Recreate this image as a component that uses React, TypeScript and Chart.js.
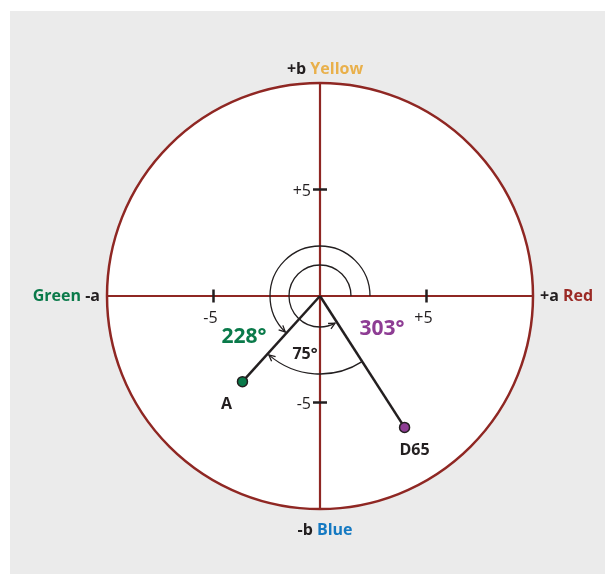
import React, { useEffect, useRef } from "react";
import { Chart, registerables } from "chart.js";

Chart.register(...registerables);

// ---- data ----
const pointNames = ["A", "D65"];
const aValues = [-3.64, 3.97];
const bValues = [-4.02, -6.17];
const pointColors = ["#0a7a4a", "#8e3d94"];
const hueAngles = [228, 303];
const tickValues = [-5, 5];
const tickLabels = ["-5", "+5"];
const axisLimit = 10;

const FONT = "'Open Sans', 'Noto Sans', sans-serif";
const AXIS_RED = "#8f2723";

function arrowHead(ctx: CanvasRenderingContext2D, x: number, y: number, dirAngle: number, size: number) {
  ctx.beginPath();
  ctx.moveTo(x - size * Math.cos(dirAngle - 0.45), y - size * Math.sin(dirAngle - 0.45));
  ctx.lineTo(x, y);
  ctx.lineTo(x - size * Math.cos(dirAngle + 0.45), y - size * Math.sin(dirAngle + 0.45));
  ctx.stroke();
}

function mathArc(
  ctx: CanvasRenderingContext2D,
  cx: number,
  cy: number,
  r: number,
  a0: number,
  a1: number,
  arrowAtEnd: boolean
) {
  const s = (-a0 * Math.PI) / 180;
  const e = (-a1 * Math.PI) / 180;
  ctx.beginPath();
  ctx.arc(cx, cy, r, s, e, a1 > a0);
  ctx.stroke();
  const at = arrowAtEnd ? a1 : a0;
  const rad = (-at * Math.PI) / 180;
  const x = cx + r * Math.cos(rad);
  const y = cy + r * Math.sin(rad);
  let dir = arrowAtEnd ? rad - Math.PI / 2 : rad + Math.PI / 2;
  if (a1 < a0) dir = arrowAtEnd ? rad + Math.PI / 2 : rad - Math.PI / 2;
  arrowHead(ctx, x, y, dir, 7);
}

function spanText(ctx: CanvasRenderingContext2D, parts: [string, string][], cx: number, y: number, font: string) {
  ctx.font = font;
  const widths = parts.map((p) => ctx.measureText(p[0]).width);
  const total = widths.reduce((a, b) => a + b, 0);
  let x = cx - total / 2;
  ctx.textAlign = "left";
  parts.forEach((p, i) => {
    ctx.fillStyle = p[1];
    ctx.fillText(p[0], x, y);
    x += widths[i];
  });
}

const labPlugin = {
  id: "labPlugin",
  beforeDatasetsDraw(chart: any) {
    const ctx: CanvasRenderingContext2D = chart.ctx;
    const xs = chart.scales.x;
    const ys = chart.scales.y;
    const cx = xs.getPixelForValue(0);
    const cy = ys.getPixelForValue(0);
    const R = xs.getPixelForValue(axisLimit) - cx;
    ctx.save();
    ctx.beginPath();
    ctx.arc(cx, cy, R, 0, Math.PI * 2);
    ctx.fillStyle = "#ffffff";
    ctx.fill();
    ctx.lineWidth = 2.5;
    ctx.strokeStyle = AXIS_RED;
    ctx.stroke();
    ctx.lineWidth = 2.2;
    ctx.beginPath();
    ctx.moveTo(xs.getPixelForValue(-axisLimit), cy);
    ctx.lineTo(xs.getPixelForValue(axisLimit), cy);
    ctx.moveTo(cx, ys.getPixelForValue(axisLimit));
    ctx.lineTo(cx, ys.getPixelForValue(-axisLimit));
    ctx.stroke();
    ctx.strokeStyle = "#231f20";
    ctx.lineWidth = 2.5;
    tickValues.forEach((v) => {
      const px = xs.getPixelForValue(v);
      const py = ys.getPixelForValue(v);
      ctx.beginPath();
      ctx.moveTo(px, cy - 6.5);
      ctx.lineTo(px, cy + 6.5);
      ctx.moveTo(cx - 7, py);
      ctx.lineTo(cx + 7, py);
      ctx.stroke();
    });
    ctx.strokeStyle = "#231f20";
    ctx.lineWidth = 1.3;
    mathArc(ctx, cx, cy, 50, 0, hueAngles[0] - 2, true);
    mathArc(ctx, cx, cy, 31, 0, hueAngles[1] - 4, true);
    mathArc(ctx, cx, cy, 78, hueAngles[0] + 1, hueAngles[1], false);
    ctx.restore();
  },
  afterDatasetsDraw(chart: any) {
    const ctx: CanvasRenderingContext2D = chart.ctx;
    const xs = chart.scales.x;
    const ys = chart.scales.y;
    const cx = xs.getPixelForValue(0);
    const cy = ys.getPixelForValue(0);
    const R = xs.getPixelForValue(axisLimit) - cx;
    ctx.save();
    ctx.textBaseline = "middle";
    const bold16 = `bold 16px ${FONT}`;
    const dark = "#231f20";
    spanText(ctx, [["+b ", dark], ["Yellow", "#e9b04b"]], cx + 5, cy - R - 14, bold16);
    spanText(ctx, [["-b ", dark], ["Blue", "#1479c2"]], cx + 5, cy + R + 21, bold16);
    ctx.font = bold16;
    ctx.textAlign = "right";
    const aw = ctx.measureText("-a").width;
    ctx.fillStyle = dark;
    ctx.fillText("-a", cx - R - 7, cy);
    ctx.fillStyle = "#0a7a4a";
    ctx.fillText("Green ", cx - R - 7 - aw, cy);
    ctx.textAlign = "left";
    ctx.fillStyle = dark;
    ctx.fillText("+a ", cx + R + 7, cy);
    const pw = ctx.measureText("+a ").width;
    ctx.fillStyle = "#9b2a25";
    ctx.fillText("Red", cx + R + 7 + pw, cy);
    ctx.font = `16px ${FONT}`;
    ctx.fillStyle = dark;
    tickValues.forEach((v, i) => {
      ctx.textAlign = "center";
      ctx.fillText(tickLabels[i], xs.getPixelForValue(v) - 3, cy + 22);
      ctx.textAlign = "right";
      ctx.fillText(tickLabels[i], cx - 9, ys.getPixelForValue(v) + 2);
    });
    ctx.font = `bold 21px ${FONT}`;
    ctx.textAlign = "center";
    ctx.fillStyle = pointColors[0];
    ctx.fillText(`${hueAngles[0]}°`, cx - 76, cy + 41);
    ctx.fillStyle = pointColors[1];
    ctx.fillText(`${hueAngles[1]}°`, cx + 62, cy + 33);
    ctx.font = bold16;
    ctx.fillStyle = dark;
    ctx.fillText(`${hueAngles[1] - hueAngles[0]}°`, cx - 15, cy + 58);
    pointNames.forEach((n, i) => {
      const px = xs.getPixelForValue(aValues[i]);
      const py = ys.getPixelForValue(bValues[i]);
      const dx = aValues[i] < 0 ? -16 : 10;
      ctx.fillText(n, px + dx, py + 23);
    });
    ctx.restore();
  },
};

export default function App() {
  const ref = useRef<HTMLCanvasElement>(null);
  useEffect(() => {
    document.documentElement.style.overflow = "hidden";
    document.body.style.overflow = "hidden";
    if (!ref.current) return;
    const chart = new Chart(ref.current, {
      type: "scatter",
      data: {
        datasets: pointNames.map((n, i) => ({
          label: n,
          data: [
            { x: 0, y: 0 },
            { x: aValues[i], y: bValues[i] },
          ],
          showLine: true,
          borderColor: "#231f20",
          borderWidth: 2.5,
          pointRadius: (c: any) => (c.dataIndex === 0 ? 0 : 5),
          pointBackgroundColor: pointColors[i],
          pointBorderColor: "#231f20",
          pointBorderWidth: 1.5,
        })),
      },
      options: {
        animation: false,
        responsive: false,
        maintainAspectRatio: false,
        layout: { padding: { left: 97, right: 72, top: 72, bottom: 65 } },
        scales: {
          x: { type: "linear", min: -axisLimit, max: axisLimit, display: false },
          y: { type: "linear", min: -axisLimit, max: axisLimit, display: false },
        },
        plugins: { legend: { display: false }, tooltip: { enabled: false } },
      },
      plugins: [labPlugin],
    });
    return () => chart.destroy();
  }, []);
  return (
    <div
      style={{
        position: "fixed",
        left: 10,
        top: 11,
        width: 595,
        height: 563,
        background: "#ebebeb",
      }}
    >
      <canvas ref={ref} width={595} height={563} style={{ display: "block" }} />
    </div>
  );
}
